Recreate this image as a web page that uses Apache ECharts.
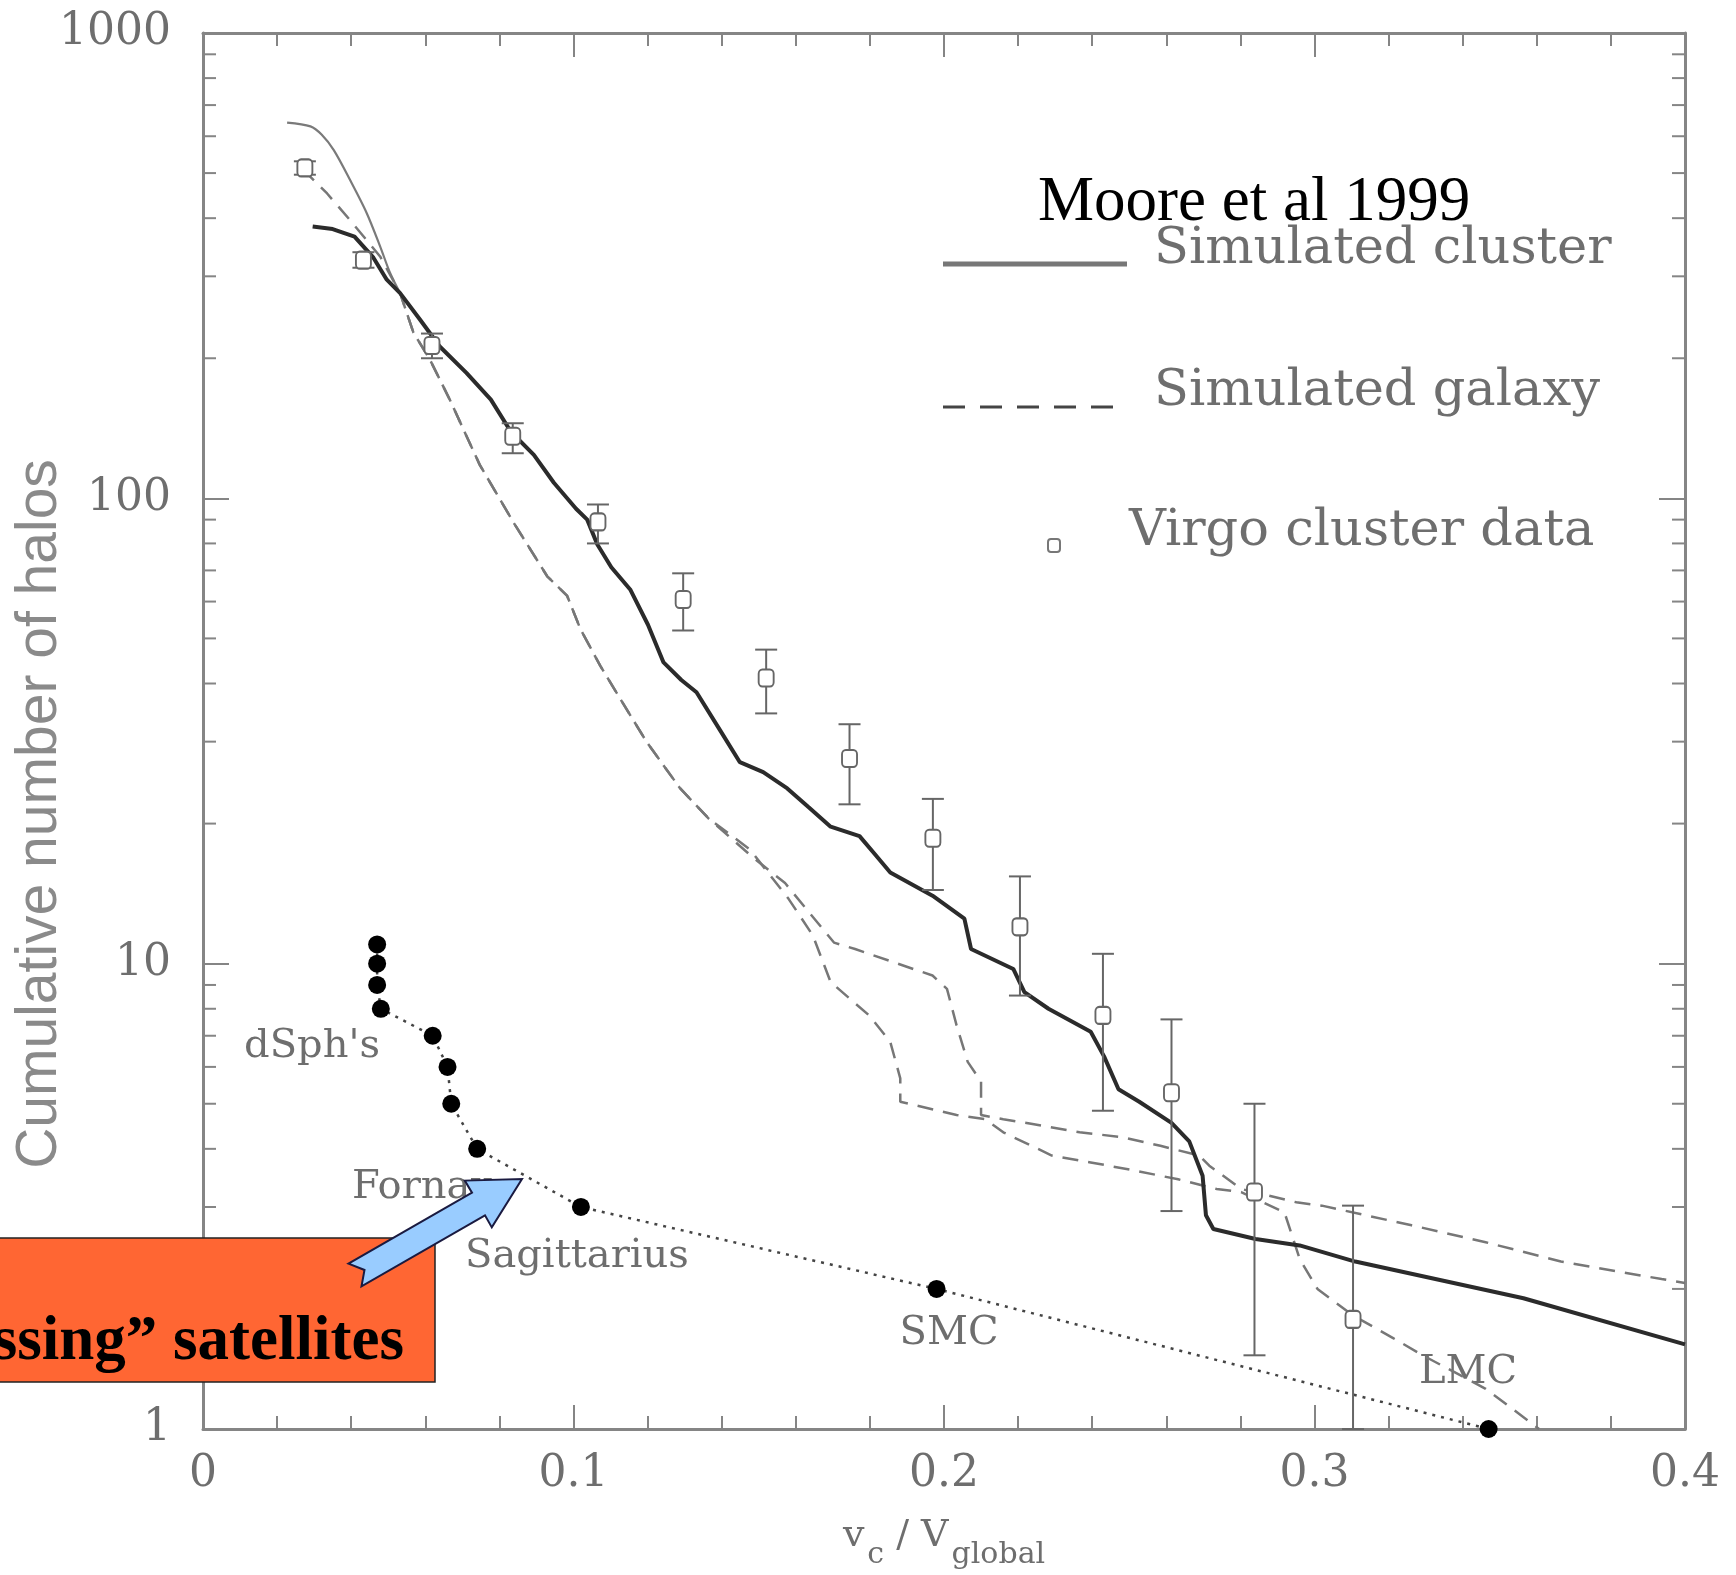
<!DOCTYPE html>
<html lang="en">

<head>
    <meta charset="UTF-8">
    <title>Cumulative number of halos - Moore et al 1999</title>
    <script src="https://cdn.jsdelivr.net/npm/echarts@6/dist/echarts.min.js"></script>
    <style>
        html, body { margin: 0; padding: 0; background: #fff; }
        #chart { width: 1736px; height: 1575px; }
    </style>
</head>

<body>
    <div id="chart"></div>

    <script>
        // x axis ticks / labels
        const xTicks = [0, 0.1, 0.2, 0.3, 0.4];
        // minor log ticks on the y axis
        const yMinorTicks = [2, 3, 4, 5, 6, 7, 8, 9, 20, 30, 40, 50, 60, 70, 80, 90, 200, 300, 400, 500, 600, 700, 800, 900];

        // simulated cluster (solid)
        const clusterX = [0.0296, 0.0350, 0.0409, 0.0460, 0.0496, 0.0532, 0.0586, 0.0639, 0.0711, 0.0777,
            0.0831, 0.0893, 0.0947, 0.1007, 0.1037, 0.1064, 0.1102, 0.1153, 0.1201, 0.1243,
            0.1291, 0.1332, 0.1395, 0.1449, 0.1512, 0.1577, 0.1634, 0.1694, 0.1772, 0.1813,
            0.1855, 0.1969, 0.2055, 0.2073, 0.2187, 0.2217, 0.2282, 0.2396, 0.2432, 0.2471,
            0.2527, 0.2614, 0.2662, 0.2698, 0.2707, 0.2727, 0.2841, 0.2960, 0.3110, 0.3564, 0.4000];
        const clusterY = [384, 379, 365, 329, 295, 276, 242, 212, 186, 163,
            139, 124, 108, 95, 90, 79.7, 71.1, 63.7, 53.5, 44.4,
            40.7, 38.3, 31.8, 27.1, 25.8, 23.8, 21.7, 19.7, 18.8, 17.2,
            15.7, 14.0, 12.5, 10.75, 9.74, 8.69, 8.0, 7.14, 6.32, 5.37,
            5.05, 4.55, 4.15, 3.50, 2.88, 2.69, 2.56, 2.48, 2.29, 1.91, 1.52];

        // simulated galaxy, thin top piece
        const galaxyTopX = [0.0227, 0.0290, 0.0320, 0.0353, 0.0397, 0.0442, 0.0478, 0.0505, 0.0532];
        const galaxyTopY = [642, 630, 605, 560, 483, 410, 348, 305, 276];
        // simulated galaxy, dashed start from the first Virgo point
        const galaxyStartX = [0.0284, 0.0335, 0.0397, 0.0478, 0.0532];
        const galaxyStartY = [496, 452, 396, 331, 276];
        // shared middle part of both galaxy curves
        const galaxyMidX = [0.0532, 0.0568, 0.0612, 0.0666, 0.0747, 0.0839, 0.0929, 0.0983, 0.1019, 0.1072, 0.1126, 0.1198, 0.1288, 0.1365];
        const galaxyMidY = [276, 227, 199, 163, 118, 88.5, 68.0, 61.7, 52.3, 43.7, 37.1, 29.9, 23.8, 20.5];
        // branch ending at the right edge
        const galaxyUpperX = [0.1485, 0.1571, 0.1703, 0.1760, 0.1864, 0.1969, 0.2008, 0.2034, 0.2064, 0.2100,
            0.2100, 0.2160, 0.2235, 0.2366, 0.2480, 0.2584, 0.2689, 0.2716, 0.2802, 0.2951,
            0.3020, 0.3262, 0.3462, 0.3665, 0.3937, 0.4000];
        const galaxyUpperY = [16.9, 14.9, 11.1, 10.75, 10.07, 9.43, 8.83, 7.37, 6.15, 5.58,
            4.73, 4.63, 4.53, 4.34, 4.24, 4.06, 3.87, 3.68, 3.28, 3.07,
            3.02, 2.74, 2.52, 2.29, 2.10, 2.06];
        // branch ending near the LMC
        const galaxyLowerX = [0.1476, 0.1580, 0.1646, 0.1694, 0.1798, 0.1855, 0.1882, 0.1882, 0.2034, 0.2112,
            0.2160, 0.2291, 0.2396, 0.2509, 0.2632, 0.2736, 0.2802, 0.2919, 0.2960, 0.3008,
            0.3101, 0.3211, 0.3292, 0.3462, 0.3585, 0.3606];
        const galaxyLowerY = [17.6, 13.8, 11.5, 9.13, 7.74, 6.79, 5.67, 5.05, 4.73, 4.63,
            4.34, 3.87, 3.74, 3.60, 3.44, 3.28, 3.23, 2.92, 2.32, 2.00,
            1.76, 1.57, 1.44, 1.22, 1.03, 1.0];

        // Virgo cluster data with error bars
        const virgoX = [0.0275, 0.0433, 0.0618, 0.0836, 0.1066, 0.1296, 0.152, 0.1745, 0.197, 0.2205, 0.2429, 0.2614, 0.2838, 0.3104];
        const virgoY = [513, 325, 213, 136, 89, 60.6, 41.1, 27.6, 18.6, 12.0, 7.74, 5.28, 3.23, 1.72];
        const virgoLow = [496, 313, 200, 125, 80, 52, 34.5, 22.0, 14.4, 8.54, 4.83, 2.94, 1.44, 1.0];
        const virgoHigh = [530, 338, 226, 145, 97, 69, 47.3, 32.7, 22.6, 15.4, 10.5, 7.59, 5.0, 3.02];

        // Milky Way satellites
        const satX = [0.047, 0.047, 0.047, 0.048, 0.062, 0.066, 0.067, 0.074, 0.102, 0.198, 0.347];
        const satY = [11, 10, 9, 8, 7, 6, 5, 4, 3, 2, 1];

        const pairs = (xs, ys) => xs.map((x, i) => [x, ys[i]]);

        const axisGray = '#858585';
        const textGray = '#6e6e6e';
        const serif = 'DejaVu Serif';

        const baseX = {
            type: 'value', min: 0, max: 0.4, interval: 0.1,
            axisLine: { show: true, onZero: false, lineStyle: { color: axisGray, width: 3 } },
            axisTick: { show: true, inside: true, length: 24, lineStyle: { color: axisGray, width: 2 } },
            minorTick: { show: true, splitNumber: 5, length: 13, lineStyle: { color: axisGray, width: 2 } },
            splitLine: { show: false }
        };
        const baseY = {
            type: 'log', logBase: 10, min: 1, max: 1000,
            axisLine: { show: true, onZero: false, lineStyle: { color: axisGray, width: 3 } },
            axisTick: { show: true, inside: true, length: 26, lineStyle: { color: axisGray, width: 2 } },
            splitLine: { show: false }
        };

        var chartDom = document.getElementById('chart');
        var myChart = echarts.init(chartDom);
        var option;

        option = {
            backgroundColor: '#fff',
            animation: false,
            grid: { left: 203, right: 51, top: 33, bottom: 145 },
            xAxis: [
                Object.assign({}, baseX, {
                    position: 'bottom',
                    axisLabel: {
                        margin: 24, fontFamily: serif, fontSize: 44, color: textGray,
                        formatter: v => (xTicks.indexOf(+v.toFixed(1)) >= 0 ? (v === 0 ? '0' : v.toFixed(1)) : '')
                    },
                    name: '{v|v}{s|c}{v| / V}{s|global}',
                    nameLocation: 'middle',
                    nameGap: 69,
                    nameTextStyle: {
                        color: textGray, fontFamily: serif,
                        rich: {
                            v: { fontSize: 38, lineHeight: 76, color: textGray, fontFamily: serif },
                            s: { fontSize: 30, lineHeight: 38, padding: [38, 0, 0, 3], color: textGray, fontFamily: serif }
                        }
                    }
                }),
                Object.assign({}, baseX, { position: 'top', axisLabel: { show: false } })
            ],
            yAxis: [
                Object.assign({}, baseY, {
                    position: 'left',
                    axisLabel: {
                        margin: 32, fontFamily: serif, fontSize: 44, color: textGray,
                        formatter: v => String(Math.round(v))
                    }
                }),
                Object.assign({}, baseY, { position: 'right', axisLabel: { show: false } })
            ],
            series: [
                {
                    // minor log ticks on left and right frame
                    type: 'custom',
                    silent: true,
                    data: yMinorTicks.map(v => [0, v]),
                    renderItem: function (params, api) {
                        const v = api.value(1);
                        const l = api.coord([0, v]);
                        const r = api.coord([0.4, v]);
                        const st = { stroke: axisGray, lineWidth: 2 };
                        return {
                            type: 'group', children: [
                                { type: 'line', shape: { x1: l[0], y1: l[1], x2: l[0] + 13, y2: l[1] }, style: st },
                                { type: 'line', shape: { x1: r[0] - 13, y1: r[1], x2: r[0], y2: r[1] }, style: st }
                            ]
                        };
                    },
                    z: 1
                },
                {
                    name: 'Simulated galaxy',
                    type: 'line',
                    data: pairs(galaxyTopX, galaxyTopY),
                    symbol: 'none',
                    smooth: 0.3,
                    lineStyle: { color: '#7a7a7a', width: 2.2 }
                },
                {
                    name: 'Simulated galaxy',
                    type: 'line',
                    data: pairs(galaxyMidX.concat(galaxyUpperX), galaxyMidY.concat(galaxyUpperY)),
                    symbol: 'none',
                    lineStyle: { color: '#777', width: 2.5, type: [16, 10] }
                },
                {
                    name: 'Simulated galaxy',
                    type: 'line',
                    data: pairs(galaxyStartX.concat(galaxyMidX, galaxyLowerX), galaxyStartY.concat(galaxyMidY, galaxyLowerY)),
                    symbol: 'none',
                    lineStyle: { color: '#777', width: 2.5, type: [16, 10], dashOffset: 8 }
                },
                {
                    name: 'Simulated cluster',
                    type: 'line',
                    data: pairs(clusterX, clusterY),
                    symbol: 'none',
                    lineStyle: { color: '#2b2b2b', width: 4 },
                    z: 4
                },
                {
                    name: 'Milky Way satellites',
                    type: 'line',
                    data: pairs(satX, satY),
                    symbol: 'none',
                    lineStyle: { color: '#444', width: 2.5, type: [3, 6] }
                },
                {
                    name: 'Milky Way satellites',
                    type: 'scatter',
                    data: pairs(satX, satY),
                    symbol: 'circle',
                    symbolSize: 18,
                    itemStyle: { color: '#000', opacity: 1 },
                    z: 6
                },
                {
                    // Virgo error bars
                    type: 'custom',
                    data: virgoX.map((x, i) => [x, virgoLow[i], virgoHigh[i]]),
                    renderItem: function (params, api) {
                        const x = api.value(0);
                        const lo = api.coord([x, api.value(1)]);
                        const hi = api.coord([x, api.value(2)]);
                        const cap = 11;
                        const st = { stroke: '#666', lineWidth: 2 };
                        return {
                            type: 'group', children: [
                                { type: 'line', shape: { x1: lo[0], y1: lo[1], x2: hi[0], y2: hi[1] }, style: st },
                                { type: 'line', shape: { x1: lo[0] - cap, y1: lo[1], x2: lo[0] + cap, y2: lo[1] }, style: st },
                                { type: 'line', shape: { x1: hi[0] - cap, y1: hi[1], x2: hi[0] + cap, y2: hi[1] }, style: st }
                            ]
                        };
                    },
                    z: 5
                },
                {
                    name: 'Virgo cluster data',
                    type: 'scatter',
                    data: pairs(virgoX, virgoY),
                    symbol: 'roundRect',
                    symbolSize: [15, 17],
                    itemStyle: { color: '#fff', borderColor: '#666', borderWidth: 2, opacity: 1 },
                    z: 6
                }
            ],
            graphic: [
                // title / legend
                { type: 'text', x: 1038, y: 203, style: { text: 'Moore et al 1999', fontFamily: 'Liberation Serif', fontSize: 63, fill: '#000', align: 'left', verticalAlign: 'middle' } },
                { type: 'line', shape: { x1: 943, y1: 264, x2: 1127, y2: 264 }, style: { stroke: '#777', lineWidth: 5 } },
                { type: 'text', x: 1154, y: 250, style: { text: 'Simulated cluster', fontFamily: serif, fontSize: 51, fill: textGray, verticalAlign: 'middle' } },
                { type: 'line', shape: { x1: 943, y1: 407, x2: 1127, y2: 407 }, style: { stroke: '#444', lineWidth: 3, lineDash: [22, 15] } },
                { type: 'text', x: 1154, y: 392, style: { text: 'Simulated galaxy', fontFamily: serif, fontSize: 51, fill: textGray, verticalAlign: 'middle' } },
                { type: 'rect', shape: { x: 1048, y: 539, width: 12, height: 13, r: 3 }, style: { fill: '#fff', stroke: '#777', lineWidth: 2 } },
                { type: 'text', x: 1129, y: 532, style: { text: 'Virgo cluster data', fontFamily: serif, fontSize: 51, fill: textGray, verticalAlign: 'middle' } },

                // y axis title
                { type: 'text', x: 40, y: 814, rotation: Math.PI / 2, style: { text: 'Cumulative number of halos', fontFamily: 'Liberation Sans', fontSize: 57, fill: '#8a8a8a', align: 'center', verticalAlign: 'middle' } },

                // satellite labels
                { type: 'text', x: 312, y: 1047, style: { text: "dSph's", fontFamily: serif, fontSize: 40, fill: textGray, align: 'center', verticalAlign: 'middle' } },
                { type: 'text', x: 352, y: 1188, style: { text: 'Fornax', fontFamily: serif, fontSize: 40, fill: textGray, align: 'left', verticalAlign: 'middle' } },
                { type: 'text', x: 465, y: 1257, style: { text: 'Sagittarius', fontFamily: serif, fontSize: 40, fill: textGray, align: 'left', verticalAlign: 'middle' } },
                { type: 'text', x: 949, y: 1334, style: { text: 'SMC', fontFamily: serif, fontSize: 40, fill: textGray, align: 'center', verticalAlign: 'middle' } },
                { type: 'text', x: 1468, y: 1373, style: { text: 'LMC', fontFamily: serif, fontSize: 40, fill: textGray, align: 'center', verticalAlign: 'middle' } },

                // orange call-out box and arrow
                { type: 'rect', z: 100, shape: { x: -4, y: 1238, width: 439, height: 144 }, style: { fill: '#ff6633', stroke: '#222', lineWidth: 1.5 } },
                { type: 'text', z: 101, x: 404, y: 1343, style: { text: '\u201CMissing\u201D satellites', fontFamily: 'Liberation Serif', fontWeight: 'bold', fontSize: 63, fill: '#000', align: 'right', verticalAlign: 'middle' } },
                {
                    type: 'polygon', z: 102,
                    shape: { points: [[522, 1179], [491.8, 1227.4], [485, 1215.3], [361.5, 1286.3], [364.5, 1270], [348.5, 1263.7], [472, 1192.7], [464.8, 1180.6]] },
                    style: { fill: '#99ccff', stroke: '#1a1a40', lineWidth: 2 }
                }
            ]
        };

        myChart.setOption(option);
    </script>

</body>

</html>
